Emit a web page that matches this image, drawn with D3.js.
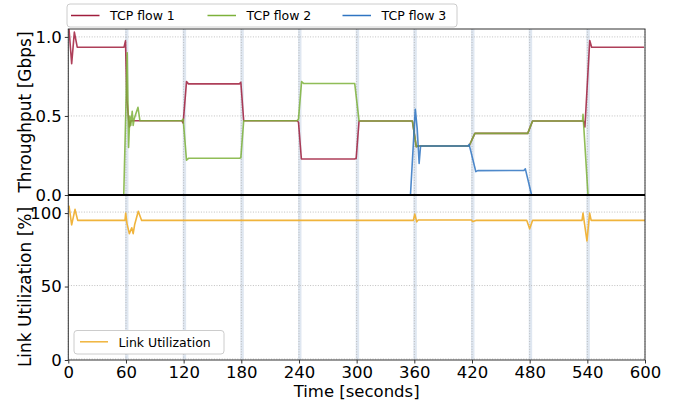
<!DOCTYPE html>
<html>
<head>
<meta charset="utf-8">
<script src="https://cdn.jsdelivr.net/npm/d3@7"></script>
<style>
  body { margin: 0; background: #fff; }
  text { font-family: "DejaVu Sans", sans-serif; }
</style>
</head>
<body>
<div id="chart"></div>
<script>
// Data: [time (s), value]
const flowNames = ['TCP flow 1', 'TCP flow 2', 'TCP flow 3'];
const flowColors = ['#a01d3c', '#7cb13a', '#2f74c2'];

const flow1 = [[0.5, 1.07], [3.5, 0.83], [6.3, 1.03], [9.3, 0.935], [58, 0.935], [59.5, 0.975], [61, 0.6],
  [63.5, 0.43], [65, 0.47], [118, 0.47], [119.5, 0.455], [123, 0.717], [125, 0.703], [178, 0.703],
  [179.5, 0.713], [182.5, 0.47], [184, 0.47], [238, 0.47], [239.5, 0.46], [242.5, 0.228], [298, 0.228],
  [299.5, 0.232], [302.5, 0.468], [358, 0.468], [362, 0.306], [364, 0.31], [417, 0.31], [423, 0.39],
  [478, 0.39], [483, 0.468], [536, 0.468], [537.5, 0.43], [542.5, 0.977], [544.5, 0.935], [599, 0.935]];

const flow2 = [[0, 0], [57.7, 0], [61.3, 0.9], [62.7, 0.3], [64, 0.5], [65, 0.44], [66.5, 0.53], [67.5, 0.44],
  [68.5, 0.48], [72.5, 0.555], [74.5, 0.47], [118, 0.47], [119.5, 0.48], [123, 0.22], [125, 0.232],
  [178, 0.232], [179.5, 0.235], [182.5, 0.47], [238, 0.47], [239.5, 0.48], [242.7, 0.717], [245, 0.705],
  [298, 0.705], [302.5, 0.468], [358, 0.468], [362, 0.306], [364, 0.31], [417, 0.31], [423, 0.39],
  [478, 0.39], [483, 0.468], [535, 0.468], [535.5, 0.51], [540.7, 0], [600, 0]];

const flow3 = [[0, 0], [356, 0], [361, 0.542], [363, 0.42], [365, 0.2], [366.5, 0.31], [416, 0.31],
  [417, 0.32], [424, 0.148], [426, 0.154], [474, 0.155], [475.5, 0.165], [482, 0], [600, 0]];

const linkUtil = [[0.7, 105], [3.5, 92], [7, 102.5], [9.8, 95], [59, 95], [59.7, 100], [61, 93], [63.5, 86],
  [66, 90], [67.5, 86], [69, 92], [72.8, 101.2], [76.3, 95], [359, 95], [360.5, 99.3], [362.5, 94],
  [364, 95.3], [419, 95.3], [421, 94.2], [424, 95], [477, 95], [480, 89.4], [483, 95], [534.5, 95],
  [535.5, 100], [539.6, 81], [542.4, 100], [544, 95], [600, 95]];

const xTicks = [0, 60, 120, 180, 240, 300, 360, 420, 480, 540, 600];
const topTicks = [0, 0.5, 1.0];
const bottomTicks = [0, 50, 100];
const changeTimes = [60, 120, 180, 240, 300, 360, 420, 480, 540];

// Dimensions
const W = 686, H = 407;
const left = 68.3, right = 645;
const topY0 = 29, midY = 195, botY = 360;

const svg = d3.select('#chart')
  .append('svg')
  .attr('width', W)
  .attr('height', H);

const x = d3.scaleLinear().domain([0, 600]).range([left, right]);
const yTop = d3.scaleLinear().domain([0, 1.05]).range([midY, topY0]);
const yBot = d3.scaleLinear().domain([0, 112.3]).range([botY, midY]);

svg.append('clipPath').attr('id', 'clipTop')
  .append('rect').attr('x', left).attr('y', topY0).attr('width', right - left).attr('height', midY - topY0);
svg.append('clipPath').attr('id', 'clipBot')
  .append('rect').attr('x', left).attr('y', midY).attr('width', right - left).attr('height', botY - midY);

// Shaded bands at each change
svg.append('g')
  .selectAll('rect')
  .data(changeTimes)
  .join('rect')
  .attr('x', d => x(d - 1))
  .attr('y', topY0)
  .attr('width', d => x(d + 2.6) - x(d - 1))
  .attr('height', botY - topY0)
  .attr('fill', '#dfe7f1');

// Grid lines
const grid = svg.append('g')
  .attr('stroke', '#b0b0b0')
  .attr('stroke-width', 0.8)
  .attr('stroke-dasharray', '1,1.6');

grid.selectAll('.vg')
  .data(xTicks)
  .join('line')
  .attr('x1', d => x(d)).attr('x2', d => x(d))
  .attr('y1', topY0).attr('y2', botY);

grid.selectAll('.tg')
  .data(topTicks)
  .join('line')
  .attr('x1', left).attr('x2', right)
  .attr('y1', d => yTop(d)).attr('y2', d => yTop(d));

grid.selectAll('.bg')
  .data(bottomTicks)
  .join('line')
  .attr('x1', left).attr('x2', right)
  .attr('y1', d => yBot(d) - 1).attr('y2', d => yBot(d) - 1);

// Lines
const lineTop = d3.line().x(d => x(d[0])).y(d => yTop(d[1]));
const lineBot = d3.line().x(d => x(d[0])).y(d => yBot(d[1]));

const flows = [flow1, flow2, flow3];
svg.append('g')
  .attr('clip-path', 'url(#clipTop)')
  .selectAll('path')
  .data(flows)
  .join('path')
  .attr('d', lineTop)
  .attr('fill', 'none')
  .attr('stroke', (d, i) => flowColors[i])
  .attr('stroke-width', 1.6)
  .attr('stroke-opacity', 0.85)
  .attr('stroke-linejoin', 'round');

svg.append('path')
  .attr('clip-path', 'url(#clipBot)')
  .attr('d', lineBot(linkUtil))
  .attr('fill', 'none')
  .attr('stroke', '#f0b43c')
  .attr('stroke-width', 1.6)
  .attr('stroke-linejoin', 'round');

// Axes
const xAxis = svg.append('g')
  .attr('transform', `translate(0,${botY})`)
  .call(d3.axisBottom(x).tickValues(xTicks).tickSize(3.5).tickPadding(3));

const yAxisTop = svg.append('g')
  .attr('transform', `translate(${left},0)`)
  .call(d3.axisLeft(yTop).tickValues(topTicks).tickFormat(d3.format('.1f')).tickSize(3.5).tickPadding(3));

const yAxisBot = svg.append('g')
  .attr('transform', `translate(${left},0)`)
  .call(d3.axisLeft(yBot).tickValues(bottomTicks).tickSize(3.5).tickPadding(3));

[xAxis, yAxisTop, yAxisBot].forEach(a => {
  a.select('.domain').remove();
  a.selectAll('text').style('font-size', '16.5px').attr('fill', '#000');
  a.selectAll('line').attr('stroke', '#333');
});

// Frame
svg.append('rect')
  .attr('x', left).attr('y', topY0)
  .attr('width', right - left).attr('height', botY - topY0)
  .attr('fill', 'none').attr('stroke', '#333').attr('stroke-width', 1);

svg.append('line')
  .attr('x1', left).attr('x2', right)
  .attr('y1', midY).attr('y2', midY)
  .attr('stroke', '#000').attr('stroke-width', 2);

// Axis labels
svg.append('text')
  .attr('x', (left + right) / 2)
  .attr('y', 397)
  .attr('text-anchor', 'middle')
  .style('font-size', '16.5px')
  .text('Time [seconds]');

svg.append('text')
  .attr('transform', `translate(31,${(topY0 + midY) / 2}) rotate(-90)`)
  .attr('text-anchor', 'middle')
  .style('font-size', '17px')
  .text('Throughput [Gbps]');

svg.append('text')
  .attr('transform', 'translate(31,287) rotate(-90)')
  .attr('text-anchor', 'middle')
  .style('font-size', '17px')
  .text('Link Utilization [%]');

// Top legend
const legTop = svg.append('g');
legTop.append('rect')
  .attr('x', 67).attr('y', 4).attr('width', 390).attr('height', 23)
  .attr('rx', 3).attr('fill', '#fff').attr('stroke', '#ccc');

const legX = [71, 207.5, 342.5];
flowNames.forEach((name, i) => {
  legTop.append('line')
    .attr('x1', legX[i]).attr('x2', legX[i] + 28.5)
    .attr('y1', 15.5).attr('y2', 15.5)
    .attr('stroke', flowColors[i]).attr('stroke-width', 1.5);
  legTop.append('text')
    .attr('x', legX[i] + 39).attr('y', 20)
    .style('font-size', '12.5px')
    .text(name);
});

// Bottom legend
const legBot = svg.append('g');
legBot.append('rect')
  .attr('x', 74).attr('y', 330.5).attr('width', 150).attr('height', 23.5)
  .attr('rx', 3).attr('fill', '#fff').attr('stroke', '#ccc');
legBot.append('line')
  .attr('x1', 80).attr('x2', 108)
  .attr('y1', 341.8).attr('y2', 341.8)
  .attr('stroke', '#f0b43c').attr('stroke-width', 1.5);
legBot.append('text')
  .attr('x', 118.5).attr('y', 346.5)
  .style('font-size', '12.5px')
  .text('Link Utilization');
</script>
</body>
</html>
